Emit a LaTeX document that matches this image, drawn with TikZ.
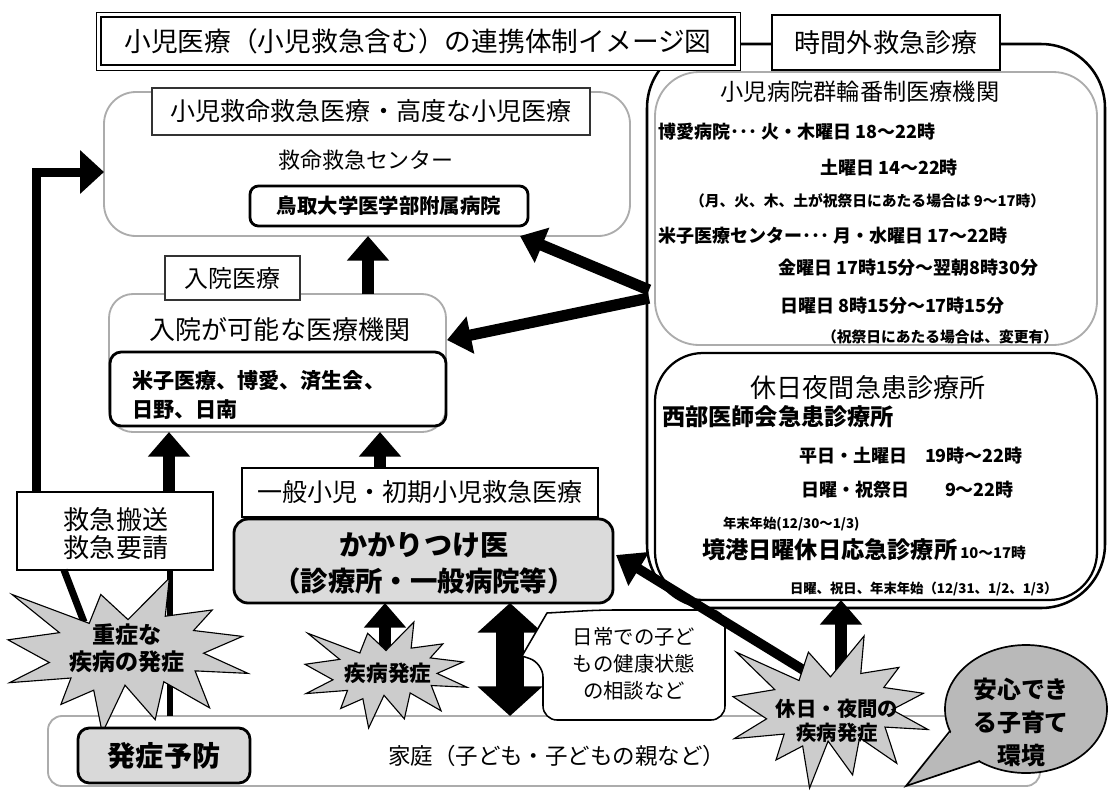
\documentclass[tikz,border=0pt]{standalone}
\usepackage{fontspec}
\setmainfont{Noto Sans CJK JP}
\usetikzlibrary{arrows.meta,calc,fit}
\newcommand\fs[1]{\fontsize{#1}{#1}\selectfont}
\begin{document}
\begin{tikzpicture}[x=0.025cm,y=-0.025cm,
  every node/.style={inner sep=0pt, outer sep=0pt},
  frame/.style={draw=black, line width=1.1pt, fill=white},
  gpanel/.style={draw=gray!65, line width=1.3pt, rounded corners=#1},
  bpanel/.style={draw=black, line width=1.6pt, rounded corners=#1},
  upar/.style={line width=9.2pt, -{Triangle[length=17.5pt,width=29pt]}},
  sidearr/.style={line width=8pt, -{Triangle[length=17pt,width=26pt]}},
  diagarr/.style={line width=7pt, -{Triangle[length=19pt,width=27pt]}},
  dblarr/.style={line width=20pt, {Triangle[length=21pt,width=45pt]}-{Triangle[length=21pt,width=45pt]}},
  larr/.style={line width=6.4pt, -{Triangle[length=17pt,width=30pt]}},
  burstst/.style={fill=gray!40, draw=black, line width=0.8pt},
  burst/.pic={\path[burstst] (50,26.85) -- (67.23,0) -- (65.53,24.65) -- (85.09,20.63) -- (77.32,33.87) -- (97.67,37.67) -- (81.51,48.50) -- (100,61.53) -- (77.95,59.92) -- (84.00,83.77) -- (64.91,66.93) -- (61.33,91.38) -- (48.76,69.14) -- (39.28,100) -- (35.72,72.35) -- (22.05,81.56) -- (26.24,64.52) -- (0.63,67.53) -- (17.23,54.51) -- (0,39.88) -- (21.42,35.26) -- (1.71,10.63) -- (33.85,29.26) -- (38.67,10.63) -- cycle;},
  tline/.style={anchor=west, font=\bfseries\fs{12.8}},
  sline/.style={anchor=west, font=\bfseries\fs{10.5}}
]
\fill[white] (0,0) rectangle (1111,791);
\useasboundingbox (0,0) rectangle (1111,791);

% outer frame of the out-of-hours area
\draw[line width=1.8pt, rounded corners=1.6cm] (647,44) rectangle (1105,608);

% title
\node[fit={(96,12) (740,70)}, draw, line width=0.7pt, fill=white] (title) {};
\draw[line width=1.8pt] ($(title.north west)+(5,5)$) rectangle ($(title.south east)+(-5,-5)$);
\node[font=\fs{19}] at (title.center) {小児医療（小児救急含む）の連携体制イメージ図};

\node[fit={(772,15) (1000,70)}, frame, line width=1.3pt] (jikan) {};
\node[font=\fs{18.5}] at (jikan.center) {時間外救急診療};

% panel A
\node[fit={(655,72) (1097,345)}, gpanel=1.1cm] (panA) {};
\node[font=\fs{16.5}] (panAt) at (860,92) {小児病院群輪番制医療機関};
\node[tline] at (658,132) {博愛病院･･･ 火・木曜日 18～22時};
\node[tline] at (820,168) {土曜日 14～22時};
\node[sline] at (690,201) {（月、火、木、土が祝祭日にあたる場合は 9～17時）};
\node[tline] at (658,236) {米子医療センター･･･ 月・水曜日 17～22時};
\node[tline] at (778,268) {金曜日 17時15分～翌朝8時30分};
\node[tline] at (780,306) {日曜日 8時15分～17時15分};
\node[sline] at (822,337) {（祝祭日にあたる場合は、変更有）};

% panel B
\node[fit={(655,353) (1097,600)}, bpanel=1.2cm] (panB) {};
\node[font=\fs{18.5}] at (868,388) {休日夜間急患診療所};
\node[anchor=west, font=\bfseries\fs{16.5}] at (662,417) {西部医師会急患診療所};
\node[tline] at (799,456) {平日・土曜日\quad 19時～22時};
\node[tline] at (801,490) {日曜・祝祭日\qquad 9～22時};
\node[anchor=west, font=\bfseries\fs{9.5}] at (723,524) {年末年始(12/30～1/3)};
\node[anchor=west, font=\bfseries] at (702,550) {{\fs{16.5}境港日曜休日応急診療所} {\fs{10.5}10～17時}};
\node[anchor=west, font=\bfseries\fs{9.5}] at (790,589) {日曜、祝日、年末年始（12/31、1/2、1/3）};

% panel C
\node[fit={(104,92) (630,236)}, gpanel=0.8cm] (panC) {};
\node[fit={(152,88) (590,135)}, draw=black!80, line width=1.1pt, fill=white] (panCt) {};
\node[font=\fs{17.8}] at (panCt.center) {小児救命救急医療・高度な小児医療};
\node[font=\fs{15.6}] (qq) at (366,160) {救命救急センター};
\node[fit={(250,186) (528,226)}, draw, line width=2pt, rounded corners=6pt] (tottori) {};
\node[font=\bfseries\fs{14.5}] at (tottori.center) {鳥取大学医学部附属病院};

% inpatient panel
\node[fit={(109,294) (446,432)}, gpanel=0.6cm] (nyu) {};
\node[fit={(165,256) (300,300)}, draw=black!80, line width=1.1pt, fill=white] (nyut) {};
\node[font=\fs{17}] at (nyut.center) {入院医療};
\node[font=\fs{18.5}] at (280,330) {入院が可能な医療機関};
\node[fit={(110,352) (446,426)}, draw, line width=2pt, rounded corners=8pt] (nyul) {};
\node[anchor=west, font=\bfseries\fs{15}] at (132,381) {米子医療、博愛、済生会、};
\node[anchor=west, font=\bfseries\fs{15}] at (132,410) {日野、日南};

% primary care
\node[fit={(242,468) (598,517)}, frame] (ippan) {};
\node[font=\fs{17.8}] at (ippan.center) {一般小児・初期小児救急医療};
\node[fit={(234,519) (613,603)}, draw, line width=2pt, fill=gray!28, rounded corners=10pt] (kakari) {};
\node[font=\bfseries\fs{20}] at (424,545) {かかりつけ医};
\node[font=\bfseries\fs{19.5}] at (424,581) {（診療所・一般病院等）};

% home panel
\node[fit={(48,716) (1040,786)}, gpanel=0.35cm] (home) {};
\node[anchor=west, font=\fs{16}] at (388,756) {家庭（子ども・子どもの親など）};

% emergency transport
\node[fit={(17,492) (213,570)}, frame] (hanso) {};
\node[font=\fs{18.5}] at (116,520) {救急搬送};
\node[font=\fs{18.5}] at (116,548) {救急要請};
\coordinate (Lc) at (36,172);
\draw[larr] ($(hanso.north west)+(19,0)$) -- (Lc) -- (panC.west |- Lc);
\coordinate (w1) at (84,622);
\coordinate (w2) at (170,716);
\draw[line width=5pt] ($(hanso.south west)+(47,0)$) -- (w1);
\draw[line width=4pt] (hanso.south -| w2) -- (w2);

% severe onset star
\pic[xscale=2.40, yscale=1.55] at (8,578) {burst};
\node[font=\bfseries\fontsize{16.4}{19}\selectfont, align=center] (s1) at (127,648) {重症な\\疾病の発症};
\node[fit={(78,728) (250,783)}, draw, line width=2pt, fill=gray!30, rounded corners=8pt] (yobo) {};
\node[font=\bfseries\fs{20}] at (yobo.center) {発症予防};

% upward arrows
\coordinate (a1) at (169,0);
\coordinate (a2) at (380,0);
\coordinate (a3) at (368,0);
\draw[upar] (hanso.north -| a1) -- (nyu.south -| a1);
\draw[upar] (ippan.north -| a2) -- (nyu.south -| a2);
\draw[upar] (nyu.north -| a3) -- (panC.south -| a3);

% arrows from out-of-hours area
\coordinate (fromA1) at (649,290);
\coordinate (fromA2) at (649,298);
\draw[sidearr] (fromA1) -- ($(panC.south)+(153,0)$);
\draw[sidearr] (fromA2) -- ($(nyu.east)+(1,-23)$);

% double arrow
\coordinate (dA) at (510,0);
\draw[dblarr] (kakari.south -| dA) -- (home.north -| dA);

% callout
\draw[fill=white, line width=1.1pt, rounded corners=10pt] (600,610) -- (725,610) -- (725,720) -- (543,720) -- (543,663) [sharp corners] -- (522,656) -- (547,613) [rounded corners=10pt] -- cycle;
\node[font=\fontsize{14.5}{19.2}\selectfont, align=center] (callout) at (634,664) {日常での子ど\\もの健康状態\\の相談など};

% illness onset star
\coordinate (a4) at (385,0);
\coordinate (b4) at (385,660);
\draw[upar] (b4) -- (kakari.south -| a4);
\pic[xscale=1.62, yscale=1.06] at (305,622) {burst};
\node[font=\bfseries\fs{15.4}] (s2) at (388,673) {疾病発症};

% holiday / night star
\coordinate (d0) at (805,671);
\coordinate (b5) at (841,680);
\draw[diagarr] (d0) -- ($(kakari.east)+(3,-6)$);
\draw[upar] (b5) -- (panB.south -| b5);
\pic[xscale=1.95, yscale=1.52] at (733,636) {burst};
\node[font=\bfseries\fontsize{14.5}{17}\selectfont, align=center] (s3) at (837,721) {休日・夜間の\\疾病発症};

% speech bubble
\filldraw[fill=gray!55, line width=1.2pt] (1026,709) ellipse [x radius=81, y radius=64];
\fill[gray!55] (953,730) -- (906,786) -- (983,759) -- cycle;
\draw[line width=1.2pt] (950,731) -- (906,786) -- (980,761);
\node[font=\bfseries\fontsize{17}{23.5}\selectfont, align=center] (anshin) at (1021,722) {安心でき\\る子育て\\環境};
\end{tikzpicture}
\end{document}
